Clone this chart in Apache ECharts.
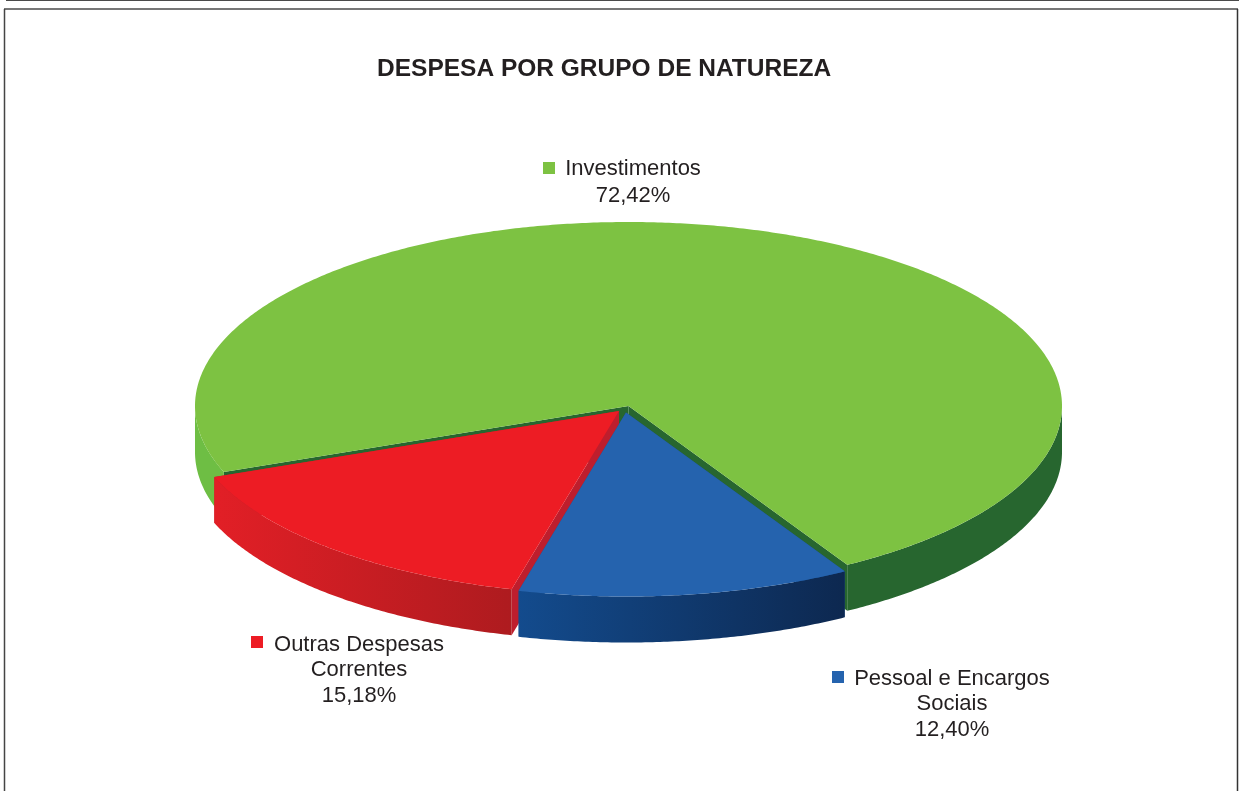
<!DOCTYPE html>
<html>
<head>
<meta charset="utf-8">
<style>html,body{margin:0;padding:0;background:#fff}#c{width:1244px;height:791px}</style>
<script src="https://cdn.jsdelivr.net/npm/echarts@6/dist/echarts.min.js"></script>
</head>
<body>
<div id="c"></div>
<script>
const categories = ['Pessoal e Encargos\nSociais', 'Outras Despesas\nCorrentes', 'Investimentos'];
const values = [12.40, 15.18, 72.42];
const titleText = 'DESPESA POR GRUPO DE NATUREZA';

const topColors = ['#2563AE', '#ED1C24', '#7DC242'];
const cutColors = ['#1B4F8F', '#BE1E2D', '#27662F'];
const wallFrom = ['#134B8D', '#E21F26', '#27662F'];
const wallTo = ['#0D2850', '#AE1B1F', '#27662F'];
const wallLeftGreen = '#6EBE44';
const inkColor = '#231F20';

const cx = 628.5, cy = 406, rx = 433.5, ry = 184, depth = 46;
const startAngle = 59.7;
const offsets = [[-2.5, 6.5], [-9.5, 5], [0, 0]];
const labelAnchors = [[952, 679], [359, 645], [633, 169]];
const labelLineHeights = [25.5, 25.5, 26.5];
const markerBoxes = [[832, 671], [251, 636], [543, 162]];
const drawOrder = [2, 1, 0];

const total = values.reduce((a, b) => a + b, 0);
const angles = [];
let acc = startAngle;
values.forEach(v => { const a = v / total * 360; angles.push([acc, acc + a]); acc += a; });

function pt(deg, ox, oy, dz) {
  const r = deg * Math.PI / 180;
  return [cx + ox + rx * Math.cos(r), cy + oy + ry * Math.sin(r) + (dz || 0)];
}
function arc(a0, a1, ox, oy, dz) {
  const n = Math.max(2, Math.ceil(Math.abs(a1 - a0) * 2));
  const out = [];
  for (let i = 0; i <= n; i++) out.push(pt(a0 + (a1 - a0) * i / n, ox, oy, dz));
  return out;
}
function frontRanges(a0, a1) {
  const out = [];
  [[0, 180], [360, 540]].forEach(([s, e]) => {
    const lo = Math.max(a0, s), hi = Math.min(a1, e);
    if (hi > lo) out.push([lo, hi]);
  });
  return out;
}
function poly(points, fill) {
  return { type: 'polygon', shape: { points }, style: { fill }, silent: true };
}

function renderItem(params, api) {
  const idx = drawOrder[params.dataIndex];
  const [a0, a1] = angles[idx];
  const [ox, oy] = offsets[idx];
  const apex = [cx + ox, cy + oy];
  const apexLow = [apex[0], apex[1] + depth];
  const children = [];

  [a0, a1].forEach(a => {
    const p = pt(a, ox, oy), q = pt(a, ox, oy, depth);
    children.push(poly([apex, p, q, apexLow], cutColors[idx]));
  });

  frontRanges(a0, a1).forEach(([lo, hi]) => {
    const upper = arc(lo, hi, ox, oy, 0);
    const lower = arc(lo, hi, ox, oy, depth).reverse();
    const isLeftGreen = idx === 2 && hi <= 180;
    const fill = isLeftGreen ? wallLeftGreen : new echarts.graphic.LinearGradient(0, 0, 1, 0, [
      { offset: 0, color: wallFrom[idx] },
      { offset: 1, color: wallTo[idx] }
    ]);
    children.push(poly(upper.concat(lower), fill));
  });

  children.push(poly([apex].concat(arc(a0, a1, ox, oy, 0)), topColors[idx]));

  return { type: 'group', children };
}

const labelGraphics = [];
categories.forEach((name, i) => {
  const pct = values[i].toFixed(2).replace('.', ',') + '%';
  labelGraphics.push({
    type: 'text', x: labelAnchors[i][0], y: labelAnchors[i][1] - 13,
    style: {
      text: name + '\n' + pct, fill: inkColor,
      font: '22px "Liberation Sans", Arial, sans-serif',
      textAlign: 'center', textVerticalAlign: 'top', lineHeight: labelLineHeights[i]
    }
  });
  labelGraphics.push({
    type: 'rect', shape: { x: markerBoxes[i][0], y: markerBoxes[i][1], width: 12, height: 12 },
    style: { fill: topColors[i] }
  });
});

const frameGraphics = [
  { type: 'line', shape: { x1: 4, y1: 9, x2: 1238, y2: 9 }, style: { stroke: '#777777', lineWidth: 2 } },
  { type: 'line', shape: { x1: 4.5, y1: 9, x2: 4.5, y2: 800 }, style: { stroke: '#444444', lineWidth: 1.5 } },
  { type: 'line', shape: { x1: 1237.5, y1: 9, x2: 1237.5, y2: 800 }, style: { stroke: '#333333', lineWidth: 1.5 } },
  { type: 'line', shape: { x1: 6, y1: 0.5, x2: 1239, y2: 0.5 }, style: { stroke: '#4a4a4a', lineWidth: 1.2 } }
];

const chart = echarts.init(document.getElementById('c'), null, { renderer: 'canvas' });
chart.setOption({
  animation: false,
  backgroundColor: '#ffffff',
  title: {
    text: titleText, left: 372, top: 52,
    textStyle: { color: inkColor, fontFamily: '"Liberation Sans", Arial, sans-serif', fontWeight: 'bold', fontSize: 24.5 }
  },
  graphic: { elements: frameGraphics.concat(labelGraphics) },
  series: [{
    type: 'custom',
    coordinateSystem: 'none',
    renderItem,
    silent: true,
    data: drawOrder.map(i => values[i])
  }]
});
</script>
</body>
</html>
